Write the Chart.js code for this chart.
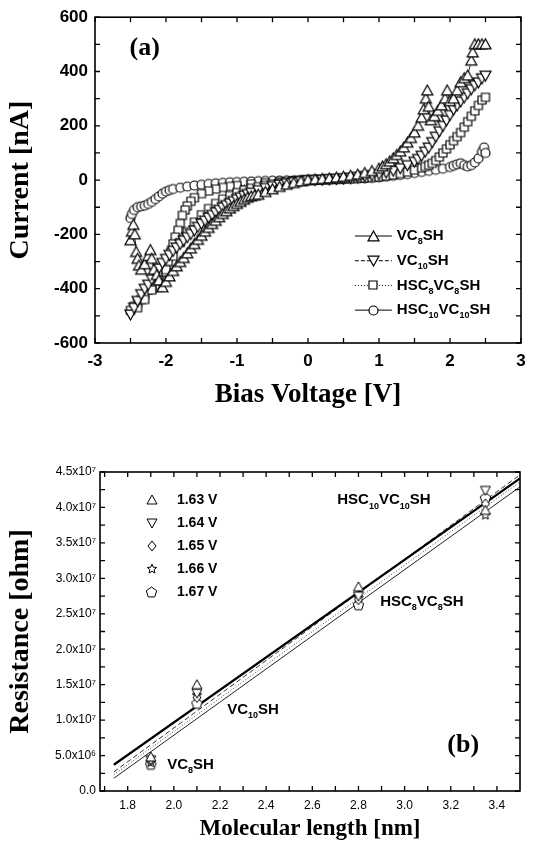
<!DOCTYPE html>
<html><head><meta charset="utf-8">
<script src="https://cdn.jsdelivr.net/npm/chart.js@4.4.0/dist/chart.umd.min.js"></script>
<style>
html,body{margin:0;padding:0;background:#fff;}
#wa{position:absolute;left:0;top:0;width:534px;height:420px;}
#wb{position:absolute;left:0;top:420px;width:534px;height:430px;}
</style></head><body>
<div id="wa"><canvas id="ca"></canvas></div>
<div id="wb"><canvas id="cb"></canvas></div>
<script>
// ---------- Panel (a): I-V curves ----------
const seriesNamesA = ['VC{8}SH', 'VC{10}SH', 'HSC{8}VC{8}SH', 'HSC{10}VC{10}SH'];

const vc8V = [-2.5,-2.48,-2.46,-2.44,-2.42,-2.4,-2.38,-2.35,-2.3,-2.25,-2.22,-2.2,-2.17,-2.13,-2.1,-2.05,-2.0,-1.95,-1.9,-1.85,-1.8,-1.75,-1.7,-1.65,-1.6,-1.55,-1.5,-1.45,-1.4,-1.35,-1.3,-1.25,-1.2,-1.15,-1.1,-1.05,-1.0,-0.95,-0.9,-0.85,-0.8,-0.75,-0.7,-0.6,-0.5,-0.4,-0.3,-0.2,-0.1,0,0.1,0.2,0.3,0.4,0.5,0.6,0.7,0.8,0.9,1.0,1.05,1.1,1.15,1.2,1.25,1.3,1.35,1.4,1.45,1.5,1.55,1.6,1.63,1.66,1.68,1.7,1.73,1.78,1.83,1.88,1.93,1.96,2.0,2.05,2.1,2.15,2.2,2.25,2.3,2.32,2.35,2.4,2.45,2.5];
const vc8I = [-222,-190,-165,-200,-265,-290,-315,-330,-310,-280,-258,-290,-330,-350,-370,-395,-375,-355,-335,-318,-302,-287,-270,-252,-236,-220,-205,-190,-176,-162,-150,-137,-125,-115,-105,-96,-88,-80,-72,-65,-60,-57,-54,-44,-34,-25,-17,-11,-5,0,2,4,6,9,12,16,20,26,33,42,50,58,68,80,92,105,120,138,155,175,200,230,260,300,330,270,220,235,255,275,300,330,290,300,330,360,375,385,440,470,500,500,500,500];

const vc10V = [-2.5,-2.45,-2.4,-2.35,-2.3,-2.25,-2.2,-2.15,-2.1,-2.05,-2.0,-1.95,-1.9,-1.85,-1.8,-1.75,-1.7,-1.65,-1.6,-1.55,-1.5,-1.45,-1.4,-1.35,-1.3,-1.25,-1.2,-1.15,-1.1,-1.05,-1.0,-0.95,-0.9,-0.85,-0.8,-0.7,-0.6,-0.5,-0.4,-0.3,-0.2,-0.1,0,0.1,0.2,0.3,0.4,0.5,0.6,0.7,0.8,0.9,1.0,1.1,1.2,1.3,1.4,1.5,1.55,1.6,1.65,1.7,1.75,1.8,1.85,1.9,1.95,2.0,2.05,2.1,2.15,2.2,2.25,2.3,2.35,2.4,2.45,2.5];
const vc10I = [-495,-470,-445,-420,-400,-385,-365,-345,-325,-305,-290,-275,-260,-248,-235,-222,-210,-198,-185,-172,-160,-149,-138,-128,-118,-109,-100,-92,-85,-77,-70,-63,-57,-51,-46,-37,-29,-22,-16,-11,-7,-3,0,1,2,4,5,7,9,12,15,18,22,28,35,44,55,68,78,90,105,120,140,160,180,200,220,240,260,275,290,305,320,335,350,360,375,385];

const hsc8V = [0,-0.2,-0.4,-0.6,-0.8,-1.0,-1.1,-1.2,-1.3,-1.4,-1.5,-1.6,-1.65,-1.7,-1.73,-1.77,-1.8,-1.83,-1.87,-1.9,-1.93,-1.97,-2.0,-2.05,-2.1,-2.15,-2.2,-2.25,-2.3,-2.35,-2.4,-2.45,-2.5,-2.4,-2.3,-2.2,-2.1,-2.0,-1.9,-1.8,-1.7,-1.6,-1.5,-1.4,-1.3,-1.2,-1.1,-1.0,-0.9,-0.8,-0.7,-0.6,-0.5,-0.4,-0.3,-0.2,-0.1,0,0.1,0.2,0.3,0.4,0.5,0.6,0.7,0.8,0.9,1.0,1.1,1.2,1.3,1.4,1.5,1.6,1.65,1.7,1.75,1.8,1.85,1.9,1.95,2.0,2.05,2.1,2.15,2.2,2.25,2.3,2.35,2.4,2.45,2.5];
const hsc8I = [0,-3,-6,-10,-14,-20,-23,-27,-33,-40,-50,-65,-78,-95,-110,-130,-160,-185,-210,-235,-265,-300,-340,-370,-395,-385,-395,-405,-420,-440,-450,-465,-480,-470,-440,-405,-370,-330,-280,-230,-190,-155,-128,-105,-86,-70,-57,-46,-37,-30,-24,-19,-15,-11,-7,-4,-2,0,0,1,2,3,4,5,7,8,10,12,15,19,24,30,37,45,50,55,62,72,85,100,115,130,145,160,175,195,215,235,255,275,295,305];

const hsc10V = [-2.5,-2.48,-2.45,-2.4,-2.35,-2.3,-2.25,-2.2,-2.15,-2.1,-2.05,-2.0,-1.95,-1.9,-1.8,-1.7,-1.6,-1.5,-1.4,-1.3,-1.2,-1.1,-1.0,-0.9,-0.8,-0.7,-0.6,-0.5,-0.4,-0.3,-0.2,-0.1,0,0.1,0.2,0.3,0.4,0.5,0.6,0.7,0.8,0.9,1.0,1.1,1.2,1.3,1.4,1.5,1.6,1.7,1.8,1.9,2.0,2.05,2.1,2.15,2.2,2.25,2.3,2.35,2.4,2.45,2.48,2.5];
const hsc10I = [-140,-125,-110,-100,-97,-94,-88,-80,-70,-60,-50,-42,-37,-33,-28,-24,-20,-17,-14,-12,-10,-8,-7,-6,-5,-4,-3,-2,-2,-1,-1,0,0,0,1,1,2,3,4,5,6,8,10,13,16,19,22,26,30,34,38,42,48,53,58,62,55,50,55,65,80,105,120,100];

const xTicksA = [-3,-2,-1,0,1,2,3];
const xLabelsA = ['-3','-2','-1','0','1','2','3'];
const yTicksA = [-600,-400,-200,0,200,400,600];
const yLabelsA = ['-600','-400','-200','0','200','400','600'];
const xMinorA = [-3,-2.5,-2,-1.5,-1,-0.5,0,0.5,1,1.5,2,2.5,3];
const yMinorA = [-600,-500,-400,-300,-200,-100,0,100,200,300,400,500,600];

// ---------- Panel (b): resistance vs molecular length ----------
const biasLabelsB = ['1.63 V', '1.64 V', '1.65 V', '1.66 V', '1.67 V'];
const lengthB = [1.9, 2.1, 2.8, 3.35];
const r163 = [4.8e6, 1.50e7, 2.88e7, 3.96e7];
const r164 = [4.4e6, 1.38e7, 2.75e7, 4.24e7];
const r165 = [4.3e6, 1.32e7, 2.70e7, 4.05e7];
const r166 = [4.0e6, 1.35e7, 2.72e7, 3.89e7];
const r167 = [3.7e6, 1.23e7, 2.62e7, 4.13e7];
const fitX = [1.74, 3.5];
const fitThick = [3.7e6, 4.41e7];
const fitDash = [2.7e6, 4.46e7];
const fitThin = [1.8e6, 4.29e7];
const fitDot = [2.3e6, 4.36e7];
const compoundLabelsB = ['HSC{10}VC{10}SH', 'HSC{8}VC{8}SH', 'VC{10}SH', 'VC{8}SH'];

const xTicksB = [1.8,2.0,2.2,2.4,2.6,2.8,3.0,3.2,3.4];
const xLabelsB = ['1.8','2.0','2.2','2.4','2.6','2.8','3.0','3.2','3.4'];
const yTicksB = [0,5e6,1e7,1.5e7,2e7,2.5e7,3e7,3.5e7,4e7,4.5e7];
const yLabelsB = ['0.0','5.0x10\u2076','1.0x10\u2077','1.5x10\u2077','2.0x10\u2077','2.5x10\u2077','3.0x10\u2077','3.5x10\u2077','4.0x10\u2077','4.5x10\u2077'];
const xMinorB = [1.7,1.8,1.9,2.0,2.1,2.2,2.3,2.4,2.5,2.6,2.7,2.8,2.9,3.0,3.1,3.2,3.3,3.4];
const yMinorB = [0,2.5e6,5e6,7.5e6,1e7,1.25e7,1.5e7,1.75e7,2e7,2.25e7,2.5e7,2.75e7,3e7,3.25e7,3.5e7,3.75e7,4e7,4.25e7,4.5e7];

// ---------- helpers ----------
const SANS = '"Liberation Sans", Arial, sans-serif';
const SERIF = '"Liberation Serif", "Times New Roman", serif';

function makeMarker(shape, size, lw) {
  const s = Math.ceil(size + 4);
  const c = document.createElement('canvas');
  c.width = s; c.height = s;
  const g = c.getContext('2d');
  g.translate(s / 2, s / 2);
  g.lineWidth = lw; g.strokeStyle = '#000'; g.fillStyle = '#fff';
  const r = size / 2;
  g.beginPath();
  if (shape === 'tri') { g.moveTo(0, -r); g.lineTo(r, r * 0.8); g.lineTo(-r, r * 0.8); g.closePath(); }
  else if (shape === 'tridown') { g.moveTo(0, r); g.lineTo(r, -r * 0.8); g.lineTo(-r, -r * 0.8); g.closePath(); }
  else if (shape === 'square') { g.rect(-r, -r, 2 * r, 2 * r); }
  else if (shape === 'circle') { g.arc(0, 0, r, 0, Math.PI * 2); }
  else if (shape === 'diamond') { g.moveTo(0, -r); g.lineTo(r * 0.8, 0); g.lineTo(0, r); g.lineTo(-r * 0.8, 0); g.closePath(); }
  else if (shape === 'pentagon') {
    for (let k = 0; k < 5; k++) { const a = -Math.PI / 2 + k * 2 * Math.PI / 5; const px = r * Math.cos(a), py = r * Math.sin(a); if (k) g.lineTo(px, py); else g.moveTo(px, py); }
    g.closePath();
  } else if (shape === 'star') {
    for (let k = 0; k < 10; k++) { const a = -Math.PI / 2 + k * Math.PI / 5; const rr = k % 2 ? r * 0.45 : r; const px = rr * Math.cos(a), py = rr * Math.sin(a); if (k) g.lineTo(px, py); else g.moveTo(px, py); }
    g.closePath();
  }
  g.fill(); g.stroke();
  return c;
}

function parseRich(t) {
  const out = []; const re = /\{([^}]*)\}/g; let last = 0, m;
  while ((m = re.exec(t))) { if (m.index > last) out.push([t.slice(last, m.index), 0]); out.push([m[1], 1]); last = re.lastIndex; }
  if (last < t.length) out.push([t.slice(last), 0]);
  return out;
}
function drawRich(ctx, text, x, y, size, weight, family, align) {
  const parts = parseRich(text);
  const fontFor = sub => `${weight} ${sub ? Math.round(size * 0.6) : size}px ${family}`;
  let w = 0;
  parts.forEach(([t, sub]) => { ctx.font = fontFor(sub); w += ctx.measureText(t).width; });
  let cx = align === 'center' ? x - w / 2 : x;
  ctx.textAlign = 'left'; ctx.textBaseline = 'middle';
  parts.forEach(([t, sub]) => { ctx.font = fontFor(sub); ctx.fillText(t, cx, sub ? y + size * 0.38 : y); cx += ctx.measureText(t).width; });
}
function pts(xs, ys) { return xs.map((v, i) => ({ x: v, y: ys[i] })); }

const frameTicks = {
  id: 'frameTicks',
  afterDraw(chart, args, o) {
    const { ctx, chartArea: a, scales: { x, y } } = chart;
    ctx.save();
    ctx.strokeStyle = '#000';
    ctx.lineWidth = o.frameWidth;
    ctx.strokeRect(a.left, a.top, a.right - a.left, a.bottom - a.top);
    ctx.lineWidth = o.tickWidth;
    ctx.beginPath();
    o.xMinor.forEach(v => { const p = x.getPixelForValue(v); ctx.moveTo(p, a.bottom); ctx.lineTo(p, a.bottom - o.len); ctx.moveTo(p, a.top); ctx.lineTo(p, a.top + o.len); });
    o.yMinor.forEach(v => { const p = y.getPixelForValue(v); ctx.moveTo(a.left, p); ctx.lineTo(a.left + o.len, p); ctx.moveTo(a.right, p); ctx.lineTo(a.right - o.len, p); });
    ctx.stroke();
    ctx.restore();
  }
};

const overlay = {
  id: 'overlay',
  afterDraw(chart, args, o) {
    const { ctx, scales: { x, y } } = chart;
    ctx.save();
    ctx.fillStyle = '#000';
    (o.notes || []).forEach(n => {
      drawRich(ctx, n.text, x.getPixelForValue(n.x), y.getPixelForValue(n.y), n.size, n.weight, n.family, n.align);
    });
    const L = o.legend;
    if (L) {
      const x0 = x.getPixelForValue(L.x), y0 = y.getPixelForValue(L.y);
      L.datasets.forEach((di, i) => {
        const ds = chart.data.datasets[di];
        const yy = y0 + i * L.dy;
        if (L.lineLen) {
          ctx.save(); ctx.setLineDash(ds.borderDash || []); ctx.lineWidth = 1; ctx.strokeStyle = '#000';
          ctx.beginPath(); ctx.moveTo(x0, yy); ctx.lineTo(x0 + L.lineLen, yy); ctx.stroke(); ctx.restore();
        }
        const img = ds.pointStyle;
        const mx = x0 + L.lineLen / 2;
        ctx.drawImage(img, Math.round(mx - img.width / 2), Math.round(yy - img.height / 2));
        ctx.fillStyle = '#000';
        drawRich(ctx, L.labels[i], x0 + L.lineLen + L.gap, yy, L.size, 'bold', SANS, 'left');
      });
    }
    ctx.restore();
  }
};

// ---------- chart (a) ----------
const lineDs = (label, xs, ys, marker, dash) => ({
  label, data: pts(xs, ys), showLine: true, borderColor: '#000', borderWidth: 0.8,
  borderDash: dash, pointStyle: marker, pointRadius: 5, pointHoverRadius: 5, fill: false
});

new Chart(document.getElementById('ca'), {
  type: 'scatter',
  data: {
    datasets: [
      lineDs(seriesNamesA[0], vc8V, vc8I, makeMarker('tri', 11, 1.2), []),
      lineDs(seriesNamesA[1], vc10V, vc10I, makeMarker('tridown', 11, 1.2), [4, 2]),
      lineDs(seriesNamesA[2], hsc8V, hsc8I, makeMarker('square', 8, 1.2), [1, 2]),
      lineDs(seriesNamesA[3], hsc10V, hsc10I, makeMarker('circle', 9, 1.2), [])
    ]
  },
  options: {
    responsive: true, maintainAspectRatio: false, animation: false,
    layout: { padding: { top: 17, right: 13, left: 0, bottom: 0 } },
    plugins: {
      legend: { display: false }, tooltip: { enabled: false },
      frameTicks: { frameWidth: 1.6, tickWidth: 1.3, len: 5, xMinor: xMinorA, yMinor: yMinorA },
      overlay: {
        notes: [{ text: '(a)', x: -2.3, y: 486, size: 26, weight: 'bold', family: SERIF, align: 'center' }],
        legend: { x: 0.66, y: -206, dy: 24.7, lineLen: 37, gap: 5, size: 15, datasets: [0, 1, 2, 3], labels: seriesNamesA }
      }
    },
    scales: {
      x: {
        type: 'linear', min: -3, max: 3,
        afterBuildTicks: s => { s.ticks = xTicksA.map(v => ({ value: v })); },
        afterFit: s => { s.height = 77; },
        grid: { display: false, drawTicks: false }, border: { display: false },
        ticks: { color: '#000', padding: 8, maxRotation: 0, autoSkip: false, font: { family: SANS, size: 17, weight: 'bold' }, callback: (v, i) => xLabelsA[i] },
        title: { display: true, text: 'Bias Voltage [V]', color: '#000', font: { family: SERIF, size: 27, weight: 'bold', lineHeight: 1 }, padding: { top: 0, bottom: 11 } }
      },
      y: {
        type: 'linear', min: -600, max: 600,
        afterBuildTicks: s => { s.ticks = yTicksA.map(v => ({ value: v })); },
        afterFit: s => { s.width = 95; },
        grid: { display: false, drawTicks: false }, border: { display: false },
        ticks: { color: '#000', padding: 7, autoSkip: false, font: { family: SANS, size: 17, weight: 'bold' }, callback: (v, i) => yLabelsA[i] },
        title: { display: true, text: 'Current [nA]', color: '#000', font: { family: SERIF, size: 28, weight: 'bold', lineHeight: 1 }, padding: { top: 7, bottom: 0 } }
      }
    }
  },
  plugins: [frameTicks, overlay]
});

// ---------- chart (b) ----------
const scatDs = (label, ys, marker) => ({
  label, data: pts(lengthB, ys), showLine: false, pointStyle: marker, pointRadius: 5, pointHoverRadius: 5
});
const fitDs = (ys, width, dash, color) => ({
  label: 'fit', data: pts(fitX, ys), showLine: true, borderColor: color, borderWidth: width, borderDash: dash, pointRadius: 0, fill: false
});

new Chart(document.getElementById('cb'), {
  type: 'scatter',
  data: {
    datasets: [
      scatDs(biasLabelsB[0], r163, makeMarker('tri', 10, 1)),
      scatDs(biasLabelsB[1], r164, makeMarker('tridown', 10, 1)),
      scatDs(biasLabelsB[2], r165, makeMarker('diamond', 10, 1)),
      scatDs(biasLabelsB[3], r166, makeMarker('star', 10, 1)),
      scatDs(biasLabelsB[4], r167, makeMarker('pentagon', 11, 1)),
      fitDs(fitThick, 2.2, [], '#000'),
      fitDs(fitDash, 1, [5, 3], '#333'),
      fitDs(fitThin, 1, [], '#222'),
      fitDs(fitDot, 1, [1, 2], '#444')
    ]
  },
  options: {
    responsive: true, maintainAspectRatio: false, animation: false,
    layout: { padding: { top: 52, right: 14, left: 0, bottom: 0 } },
    plugins: {
      legend: { display: false }, tooltip: { enabled: false },
      frameTicks: { frameWidth: 1.6, tickWidth: 1.3, len: 5, xMinor: xMinorB, yMinor: yMinorB },
      overlay: {
        notes: [
          { text: compoundLabelsB[0], x: 2.708, y: 4.1e7, size: 15, weight: 'bold', family: SANS, align: 'left' },
          { text: compoundLabelsB[1], x: 2.894, y: 2.67e7, size: 15, weight: 'bold', family: SANS, align: 'left' },
          { text: compoundLabelsB[2], x: 2.231, y: 1.14e7, size: 15, weight: 'bold', family: SANS, align: 'left' },
          { text: compoundLabelsB[3], x: 1.971, y: 3.7e6, size: 15, weight: 'bold', family: SANS, align: 'left' },
          { text: '(b)', x: 3.254, y: 6.5e6, size: 26, weight: 'bold', family: SERIF, align: 'center' }
        ],
        legend: { x: 1.905, y: 4.1e7, dy: 23, lineLen: 0, gap: 25, size: 14, datasets: [0, 1, 2, 3, 4], labels: biasLabelsB }
      }
    },
    scales: {
      x: {
        type: 'linear', min: 1.68, max: 3.5,
        afterBuildTicks: s => { s.ticks = xTicksB.map(v => ({ value: v })); },
        afterFit: s => { s.height = 59; },
        grid: { display: false, drawTicks: false }, border: { display: false },
        ticks: { color: '#000', padding: 7, maxRotation: 0, autoSkip: false, font: { family: SANS, size: 12 }, callback: (v, i) => xLabelsB[i] },
        title: { display: true, text: 'Molecular length [nm]', color: '#000', font: { family: SERIF, size: 23, weight: 'bold', lineHeight: 1 }, padding: { top: 0, bottom: 9 } }
      },
      y: {
        type: 'linear', min: 0, max: 4.5e7,
        afterBuildTicks: s => { s.ticks = yTicksB.map(v => ({ value: v })); },
        afterFit: s => { s.width = 100; },
        grid: { display: false, drawTicks: false }, border: { display: false },
        ticks: { color: '#000', padding: 4, autoSkip: false, font: { family: SANS, size: 12 }, callback: (v, i) => yLabelsB[i] },
        title: { display: true, text: 'Resistance [ohm]', color: '#000', font: { family: SERIF, size: 28, weight: 'bold', lineHeight: 1 }, padding: { top: 7, bottom: 0 } }
      }
    }
  },
  plugins: [frameTicks, overlay]
});
</script>
</body></html>
